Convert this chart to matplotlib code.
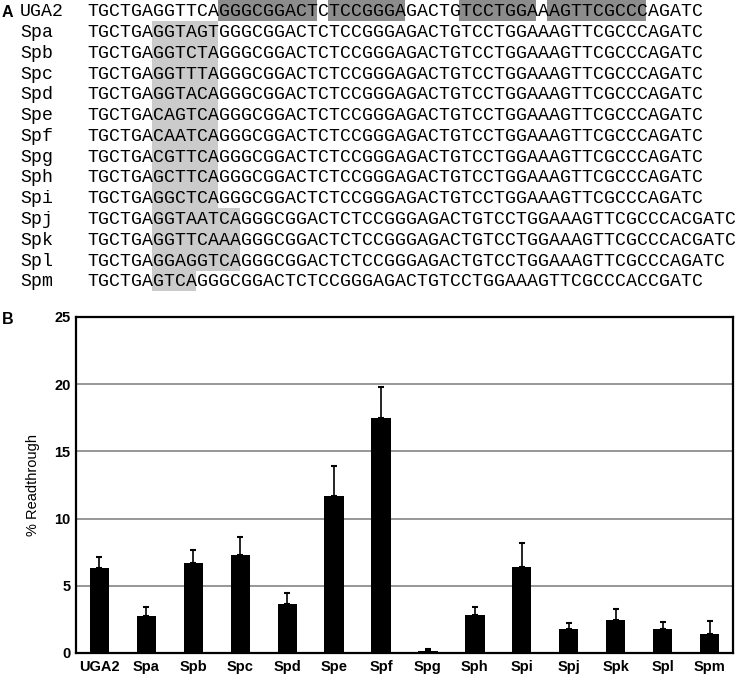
import matplotlib
matplotlib.use("Agg")
import matplotlib.pyplot as plt
from matplotlib.patches import Rectangle
import numpy as np

# ---------------- data ----------------
seq_names = ["UGA2", "Spa", "Spb", "Spc", "Spd", "Spe", "Spf", "Spg",
             "Sph", "Spi", "Spj", "Spk", "Spl", "Spm"]
sequences = [
    "TGCTGAGGTTCAGGGCGGACTCTCCGGGAGACTGTCCTGGAAAGTTCGCCCAGATC",
    "TGCTGAGGTAGTGGGCGGACTCTCCGGGAGACTGTCCTGGAAAGTTCGCCCAGATC",
    "TGCTGAGGTCTAGGGCGGACTCTCCGGGAGACTGTCCTGGAAAGTTCGCCCAGATC",
    "TGCTGAGGTTTAGGGCGGACTCTCCGGGAGACTGTCCTGGAAAGTTCGCCCAGATC",
    "TGCTGAGGTACAGGGCGGACTCTCCGGGAGACTGTCCTGGAAAGTTCGCCCAGATC",
    "TGCTGACAGTCAGGGCGGACTCTCCGGGAGACTGTCCTGGAAAGTTCGCCCAGATC",
    "TGCTGACAATCAGGGCGGACTCTCCGGGAGACTGTCCTGGAAAGTTCGCCCAGATC",
    "TGCTGACGTTCAGGGCGGACTCTCCGGGAGACTGTCCTGGAAAGTTCGCCCAGATC",
    "TGCTGAGCTTCAGGGCGGACTCTCCGGGAGACTGTCCTGGAAAGTTCGCCCAGATC",
    "TGCTGAGGCTCAGGGCGGACTCTCCGGGAGACTGTCCTGGAAAGTTCGCCCAGATC",
    "TGCTGAGGTAATCAGGGCGGACTCTCCGGGAGACTGTCCTGGAAAGTTCGCCCACGATC",
    "TGCTGAGGTTCAAAGGGCGGACTCTCCGGGAGACTGTCCTGGAAAGTTCGCCCACGATC",
    "TGCTGAGGAGGTCAGGGCGGACTCTCCGGGAGACTGTCCTGGAAAGTTCGCCCAGATC",
    "TGCTGAGTCAGGGCGGACTCTCCGGGAGACTGTCCTGGAAAGTTCGCCCACCGATC",
]
# highlighted stretches in UGA2 (start, end) character indices
uga2_boxes = [(12, 21), (22, 29), (34, 41), (42, 51)]
# variable region per variant (start, end) character indices, rows 1..13
variant_regions = [(6, 12)] * 9 + [(6, 14)] * 3 + [(6, 10)]

categories = ["UGA2", "Spa", "Spb", "Spc", "Spd", "Spe", "Spf", "Spg",
              "Sph", "Spi", "Spj", "Spk", "Spl", "Spm"]
readthrough = [6.3, 2.75, 6.7, 7.3, 3.62, 11.66, 17.5, 0.15,
               2.8, 6.4, 1.76, 2.48, 1.81, 1.44]
errors = [0.87, 0.7, 0.97, 1.3, 0.84, 2.28, 2.3, 0.15,
          0.6, 1.8, 0.45, 0.77, 0.52, 0.94]
yticks = [0, 5, 10, 15, 20, 25]

# ---------------- figure ----------------
W, H = 736, 685
fig = plt.figure(figsize=(W / 100, H / 100), dpi=100)

# Panel A in pixel coordinates
axA = fig.add_axes([0, 0, 1, 1])
axA.set_xlim(0, W)
axA.set_ylim(H, 0)
axA.axis("off")

x0 = 87.5
cw = 10.97
row_h = 20.77
mono_pt = cw / 0.6 * 72 / 100
dark = "#8c8c8c"
light = "#cbcbcb"


def band(i):
    return 20.77 * i + 0.3, 20.77 * (i + 1) + 0.3


t, b = band(0)
for s, e in uga2_boxes:
    axA.add_patch(Rectangle((x0 + s * cw - 1, t - 0.3), (e - s) * cw, b - t,
                            facecolor=dark, edgecolor="none", zorder=1))
for i, (s, e) in enumerate(variant_regions, start=1):
    t, b = band(i)
    axA.add_patch(Rectangle((x0 + s * cw - 1, t), (e - s) * cw, b - t + 0.2,
                            facecolor=light, edgecolor="none", zorder=1))

for i, (name, seq) in enumerate(zip(seq_names, sequences)):
    base = 16.3 + row_h * i
    axA.text(20, base, name, family="Liberation Mono", fontsize=mono_pt,
             va="baseline", ha="left", color="black", zorder=2)
    axA.text(x0, base, seq, family="Liberation Mono", fontsize=mono_pt,
             va="baseline", ha="left", color="black", zorder=2)

axA.text(2, 12, "A", family="Liberation Sans", fontweight="bold",
         fontsize=11.5, va="center", ha="left")
axA.text(2, 319, "B", family="Liberation Sans", fontweight="bold",
         fontsize=11.5, va="center", ha="left")

# Panel B
left, right, bottom, top = 76, 733, 653, 317
axB = fig.add_axes([left / W, (H - bottom) / H, (right - left) / W, (bottom - top) / H])
x = np.arange(len(categories))
axB.bar(x, readthrough, width=0.41, color="black", zorder=3)
axB.errorbar(x, readthrough, yerr=[np.zeros(len(errors)), errors], fmt="none",
             ecolor="black", elinewidth=1.2, capsize=2.2, capthick=1.5, zorder=4)
axB.set_xlim(-0.5, len(categories) - 0.5)
axB.set_ylim(0, 25)
axB.set_yticks(yticks)
axB.set_yticklabels([str(v) for v in yticks], family="Liberation Sans",
                    fontweight="bold", fontsize=10.5)
axB.set_xticks(x)
axB.set_xticklabels(categories, family="Liberation Sans", fontweight="bold",
                    fontsize=10.5)
axB.tick_params(axis="both", length=0)
axB.tick_params(axis="y", pad=4)
axB.tick_params(axis="x", pad=5)
for v in yticks[1:-1]:
    axB.axhline(v, color="#7a7a7a", linewidth=1.1, zorder=1)
for sp in axB.spines.values():
    sp.set_linewidth(1.6)
    sp.set_color("black")

fig.text(33 / W, 1 - 485 / H, "% Readthrough", rotation=90,
         family="Liberation Sans", fontsize=10.5, va="center", ha="center")

fig.savefig("out.png", dpi=100)
